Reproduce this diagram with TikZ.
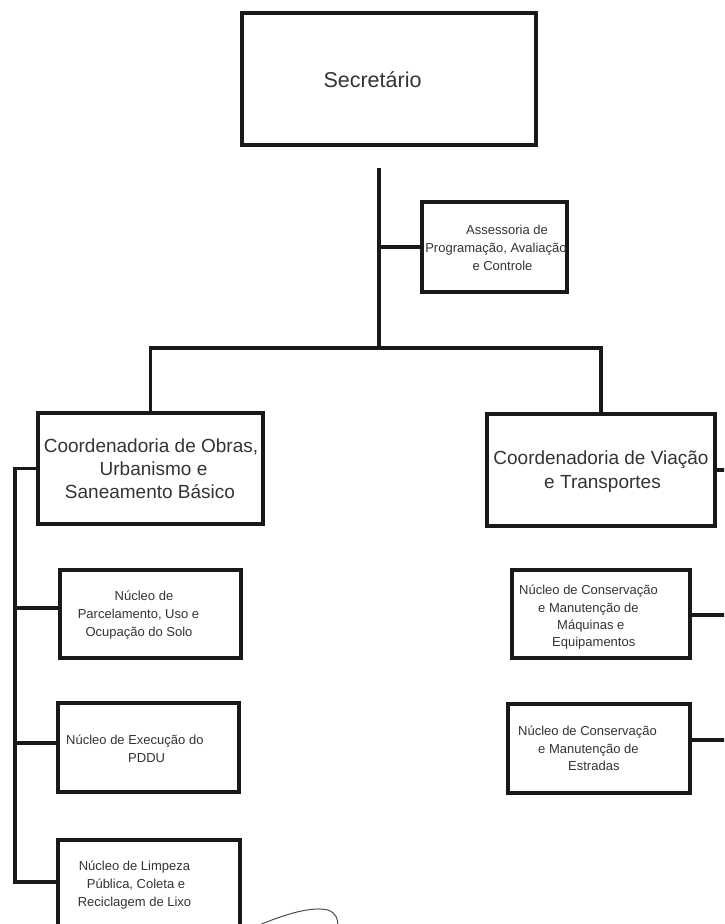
\documentclass[tikz,border=0pt]{standalone}
\usepackage{fontspec}
\setmainfont{Liberation Sans}
\begin{document}
\begin{tikzpicture}[x=1pt,y=-1pt,
  box/.style={draw=black!90, line width=3.4pt, inner sep=0pt},
  link/.style={draw=black!90, line width=3.1pt},
  head/.style={font=\fontsize{21.5}{26}\selectfont, text=black!80, inner sep=0pt, anchor=base},
  big/.style={font=\fontsize{19}{23}\selectfont, text=black!80, inner sep=0pt, anchor=base},
  small/.style={font=\fontsize{13}{18}\selectfont, text=black!80, inner sep=0pt, anchor=base},
  smallL/.style={small, anchor=base west},
]
\useasboundingbox (0,0) rectangle (724,924);
\clip (0,0) rectangle (724,924);

% ---- boxes ----
\node[box, minimum width=294pt, minimum height=132pt] (sec) at (389,79) {};
\node[box, minimum width=145pt, minimum height=90pt]  (asp) at (494.5,247) {};
\node[box, minimum width=225pt, minimum height=111pt] (obras) at (150.5,468.5) {};
\node[box, minimum width=228pt, minimum height=112pt] (viacao) at (601,470) {};
\node[box, minimum width=181pt, minimum height=88pt]  (parc) at (150.5,614) {};
\node[box, minimum width=181pt, minimum height=89pt]  (pddu) at (148.5,747.5) {};
\node[box, minimum width=182pt, minimum height=120pt] (limp) at (149,900) {};
\node[box, minimum width=178pt, minimum height=88pt]  (maq) at (601,614) {};
\node[box, minimum width=182pt, minimum height=89pt]  (estr) at (599,748.5) {};

% ---- texts ----
\node[head] (secT) at (372.5,87) {Secretário};

\node[small] (aspT1) at (507,234) {Assessoria de};
\node[small] (aspT2) at (496,252) {Programação, Avaliação};
\node[small] (aspT3) at (502.5,270) {e Controle};

\node[big] (obrasT1) at (151,452) {Coordenadoria de Obras,};
\node[big] (obrasT2) at (153.5,475) {Urbanismo e};
\node[big] (obrasT3) at (150,498) {Saneamento Básico};

\node[big] (viacaoT1) at (601,464) {Coordenadoria de Viação};
\node[big] (viacaoT2) at (602.5,488) {e Transportes};

\node[small] (parcT1) at (144,600) {Núcleo de};
\node[small] (parcT2) at (138.5,618) {Parcelamento, Uso e};
\node[small] (parcT3) at (139,636) {Ocupação do Solo};

\node[smallL] (pdduT1) at (66,744) {Núcleo de Execução do};
\node[smallL] (pdduT2) at (128,762) {PDDU};

\node[small] (limpT1) at (134.5,870) {Núcleo de Limpeza};
\node[small] (limpT2) at (136,888) {Pública, Coleta e};
\node[small] (limpT3) at (134.5,906) {Reciclagem de Lixo};

\node[smallL] (maqT1) at (519,594) {Núcleo de Conservação};
\node[smallL] (maqT2) at (538,612) {e Manutenção de};
\node[smallL] (maqT3) at (557,629) {Máquinas e};
\node[smallL] (maqT4) at (552,646) {Equipamentos};

\node[smallL] (estrT1) at (518,735) {Núcleo de Conservação};
\node[smallL] (estrT2) at (538,753) {e Manutenção de};
\node[smallL] (estrT3) at (568,770) {Estradas};

% ---- bus points ----
\coordinate (top) at (379,168);
\coordinate (bus) at (379,348);
\coordinate (lbus) at (15,468.5);
\coordinate (lend) at (15,882);
\coordinate (rbus) at (738,470);
\coordinate (rend) at (738,740);

% ---- connectors ----
\draw[link] (top) -- (bus);
\draw[link] (asp.west) -- (asp.west -| top);
\draw[link] (obras.north) |- (bus) -| (viacao.north);

\draw[link] (obras.west) -- (lbus) -- (lend) -- (lend -| limp.west);
\draw[link] (parc.west |- 0,608) -- (lbus |- 0,608);
\draw[link] (pddu.west |- 0,743) -- (lbus |- 0,743);

\draw[link] (viacao.east) -- (rbus) -- (rend) -- (rend -| estr.east);
\draw[link] (maq.east |- 0,615) -- (rbus |- 0,615);

% ---- pen stroke at the foot ----
\draw[black!70, line width=1pt, line cap=round]
  (257,926) .. controls (285,914) and (312,906) .. (328,910)
  .. controls (336,913) and (338,919) .. (338,926);
\end{tikzpicture}
\end{document}
